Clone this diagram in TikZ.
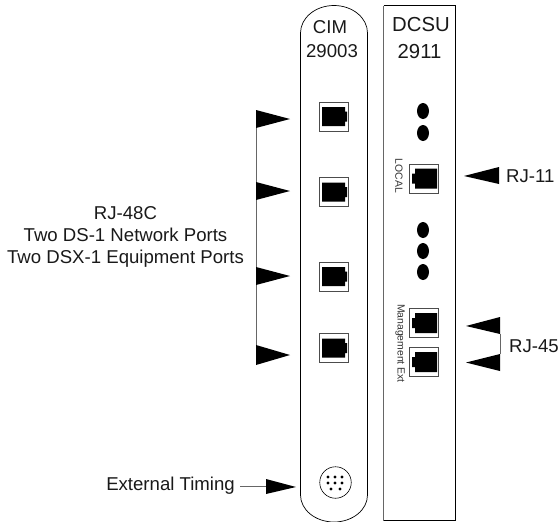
\documentclass[tikz,border=0pt]{standalone}
\usepackage{fontspec}
\setmainfont{Liberation Sans}
\begin{document}
\begin{tikzpicture}[x=1pt,y=-1pt,
  panel/.style={draw=black,line width=0.7pt},
  lbl/.style={inner sep=0pt,font=\fontsize{18.6}{22}\selectfont,align=center,text=black!90},
  bigl/.style={inner sep=0pt,font=\fontsize{20.3}{24}\selectfont,text=black!90},
  tiny/.style={inner sep=0pt,font=\fontsize{10.4}{12}\selectfont,text=black!80},
  portbox/.style={draw=black!70,fill=white,line width=0.7pt,minimum width=29.5pt,minimum height=29pt,inner sep=0pt},
  head/.style={fill=black,draw=none},
  link/.style={draw=black!60,line width=0.8pt}]
\useasboundingbox (0,0) rectangle (560,522);
% CIM panel
\draw[panel] (300.5,33) arc[start angle=180,end angle=0,x radius=33.5,y radius=-27.5] -- (367.5,495) arc[start angle=0,end angle=-180,x radius=33.5,y radius=-27] -- cycle;
% DCSU panel
\draw[panel] (383.8,5.5) -- (455,5.5) -- (455,520.5) -- (383.8,520.5);
\draw[draw=black!60,line width=1pt] (383.8,5.5) -- (383.8,520.5);
% text
\node[lbl] (cim) at (330,27) {CIM};
\node[lbl] (cimn) at (332,51) {29003};
\node[bigl] (dcsu) at (421,25) {DCSU};
\node[bigl] (dcsun) at (419.5,52) {2911};
\node[lbl] (rj48) at (125.5,237) {RJ-48C\\Two DS-1 Network Ports\\Two DSX-1 Equipment Ports};
\node[lbl,anchor=west] (rj11) at (506,176) {RJ-11};
\node[lbl,anchor=west] (rj45) at (509,346) {RJ-45};
\node[lbl,anchor=east] (ext) at (235,486) {External Timing};
\node[tiny,rotate=-90] (local) at (399,176) {LOCAL};
\node[tiny,rotate=-90] (mgmt) at (400,343.5) {Management Ext};
% CIM ports
\foreach \n/\y in {a/116.5,b/192,c/276.5,d/348}{
  \node[portbox] (p\n) at (334,\y) {};
  \fill (322,\y-9.5) -- (345,\y-9.5) -- (345,\y-5) -- (347,\y-5) -- (347,\y+5) -- (345,\y+5) -- (345,\y+9.5) -- (322,\y+9.5) -- cycle;
}
% DCSU ports
\foreach \n/\y in {l/178.5,m/323,e/362}{
  \node[portbox] (p\n) at (424,\y) {};
  \fill (437,\y-10) -- (415,\y-10) -- (415,\y-5) -- (412,\y-5) -- (412,\y+5) -- (415,\y+5) -- (415,\y+10) -- (437,\y+10) -- cycle;
}
% LEDs
\foreach \y in {111,133,230,251,272}{
  \fill (423,\y) ellipse[x radius=6,y radius=8];
}
% left bus
\coordinate (bt) at (256.5,128);
\coordinate (bb) at (256.5,346);
\draw[link] (bt) -- (bb);
% left arrowheads
\foreach \y/\h in {119/9,191/9,276/9,355/10}{
  \fill[head] (256,\y-\h) -- (290,\y) -- (256,\y+\h) -- cycle;
}
% RJ-11
\fill[head] (499,167) -- (464,176) -- (499,184) -- cycle;
% RJ-45
\coordinate (ra) at (500,334);
\coordinate (rb) at (500,354);
\draw[link] (ra) -- (rb);
\fill[head] (500,317) -- (466,326) -- (500,334) -- cycle;
\fill[head] (500,354) -- (466,362.5) -- (500,371) -- cycle;
% external timing
\coordinate (et) at (266,486.5);
\draw[link] (ext.east) ++(5,0.5) -- (et);
\fill[head] (266,479) -- (296,487) -- (266,494) -- cycle;
% connector
\node[draw=black,line width=0.6pt,circle,minimum size=31.5pt,inner sep=0pt] (conn) at (335.5,482.5) {};
\foreach \x/\y in {328/477,335/477,342/477,328/483,335/483,342/483,331/489,340/489}{
  \fill (\x,\y) circle[radius=1.7];
}
\end{tikzpicture}
\end{document}
